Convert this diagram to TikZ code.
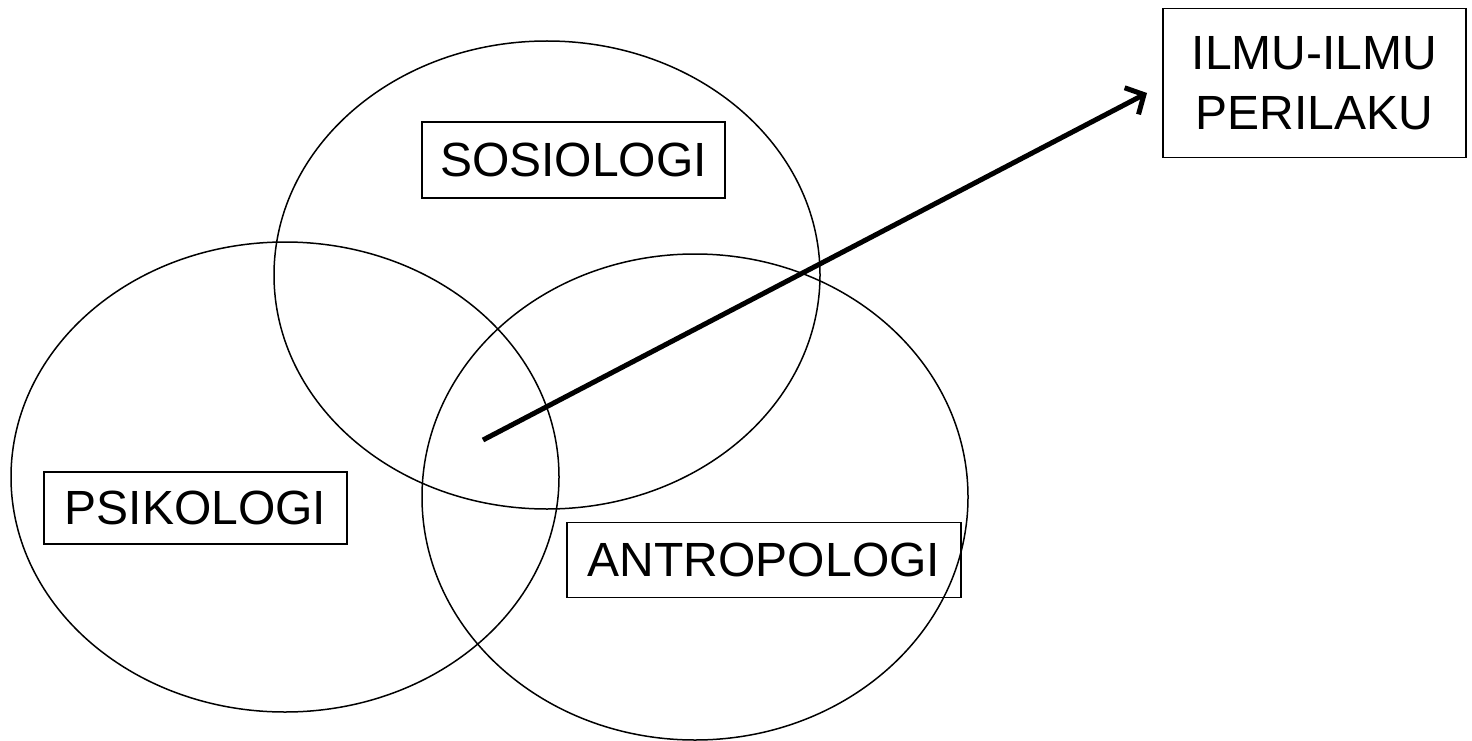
\documentclass[tikz,border=0pt]{standalone}
\usepackage{fontspec}
\setmainfont{Liberation Sans}
\usetikzlibrary{arrows.meta}
\begin{document}
\begin{tikzpicture}[x=1pt,y=-1pt,
  label box/.style={draw, line width=1.6pt, inner sep=0pt, align=center,
    font=\fontsize{48}{60}\selectfont},
  venn/.style={line width=1.5pt},
  big arrow/.style={line width=5pt, -{Straight Barb[length=14pt,width=30pt]}}]
\useasboundingbox (0,0) rectangle (1472,741);
% circles
\draw[venn] (547,275) ellipse [x radius=273pt, y radius=234pt];
\draw[venn] (285,477) ellipse [x radius=274pt, y radius=235pt];
\draw[venn] (695,497) ellipse [x radius=273pt, y radius=243pt];
% labels
\node[label box, minimum width=303pt, minimum height=76pt] (sos) at (573.5,160) {SOSIOLOGI};
\node[label box, minimum width=303pt, minimum height=72pt] (psi) at (195.5,508) {PSIKOLOGI};
\node[label box, minimum width=394pt, minimum height=75pt] (ant) at (764,560) {ANTROPOLOGI};
\node[label box, minimum width=303pt, minimum height=149pt] (ilmu) at (1314.5,83) {ILMU-ILMU\\PERILAKU};
% arrow
\coordinate (start) at (483,440);
\coordinate (tip) at (1147,93);
\draw[big arrow] (start) -- (tip);
\end{tikzpicture}
\end{document}
